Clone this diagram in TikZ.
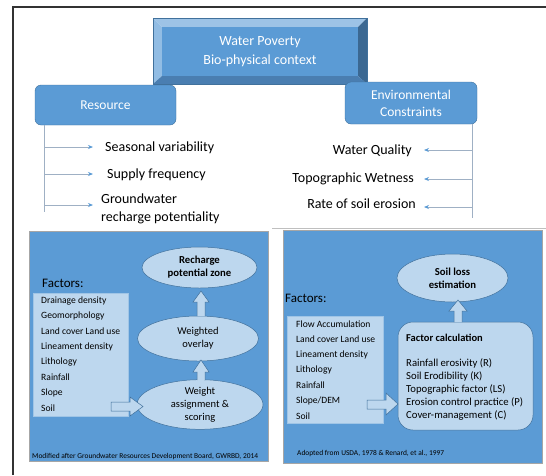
\documentclass[tikz,border=0pt]{standalone}
\usepackage{fontspec}
\setmainfont{Carlito}
\usetikzlibrary{arrows.meta,shapes.geometric}
\definecolor{mblue}{HTML}{5B9BD5}
\definecolor{lblue}{HTML}{BDD7EE}
\definecolor{dblue}{HTML}{41719C}
\definecolor{bevtop}{HTML}{9DC3E6}
\definecolor{bevleft}{HTML}{92BDE4}
\definecolor{bevright}{HTML}{3B6892}
\definecolor{bevbot}{HTML}{4A7EB1}
\definecolor{lineg}{HTML}{9FB0C4}
\definecolor{panelb}{HTML}{A6A6A6}
\tikzset{
  rbox/.style={draw=dblue, fill=mblue, rounded corners=6pt, text=white, align=center, font=\fontsize{13.5}{15}\selectfont, inner sep=0pt},
  plaintxt/.style={inner sep=0pt, anchor=west, font=\fontsize{14}{15}\selectfont},
  plaintxtr/.style={inner sep=0pt, anchor=east, font=\fontsize{14}{15}\selectfont},
  conn/.style={draw=lineg, line width=0.8pt, -{Stealth[length=5pt,width=4pt,color=mblue,fill=mblue]}},
  panelbox/.style={draw=panelb, fill=mblue, line width=0.6pt},
  lbox/.style={draw=lblue!70!mblue, fill=lblue, line width=0.5pt},
  itemtxt/.style={inner sep=0pt, anchor=west, font=\fontsize{9.6}{11}\selectfont},
  citem/.style={inner sep=0pt, anchor=west, font=\fontsize{10.7}{12}\selectfont},
  ell/.style={ellipse, draw=dblue, fill=lblue, line width=0.5pt, inner sep=0pt, align=center, font=\fontsize{10.5}{13}\selectfont},
  barrow/.style={draw=dblue, fill=lblue, line width=0.5pt, line join=miter},
  captxt/.style={inner sep=0pt, anchor=west, font=\fontsize{7.45}{8}\selectfont},
  factxt/.style={inner sep=0pt, anchor=west, font=\fontsize{13}{15}\selectfont}
}
\begin{document}
\begin{tikzpicture}[x=1pt, y=-1pt]
\useasboundingbox (0,0) rectangle (546,475);
% outer frame
\draw[line width=2pt, draw=black!80] (13,475) -- (13,7) -- (546,7);

% bevelled title box
\fill[bevtop] (153,18) -- (367,18) -- (358,27) -- (162,27) -- cycle;
\fill[bevleft] (153,18) -- (162,27) -- (162,76) -- (153,84) -- cycle;
\fill[bevright] (367,18) -- (367,84) -- (358,76) -- (358,27) -- cycle;
\fill[bevbot] (153,84) -- (162,76) -- (358,76) -- (367,84) -- cycle;
\node[fill=mblue, minimum width=196pt, minimum height=49pt, inner sep=0pt, text=white, align=center, font=\fontsize{14}{18.5}\selectfont] (title) at (260,51.5) {Water Poverty\\Bio-physical context};
\draw[dblue, line width=0.4pt] (153,18) rectangle (367,84);

% resource / constraints
\node[rbox, minimum width=141pt, minimum height=40pt] (res) at (105.5,105) {Resource};
\node[rbox, minimum width=132pt, minimum height=42pt, font=\fontsize{13.5}{17}\selectfont] (env) at (411,103) {Environmental\\Constraints};

\coordinate (rl) at (44,125);
\coordinate (rlend) at (44,212);
\draw[draw=lineg, line width=0.8pt] (rl) -- (rlend);
\node[plaintxt] (s1) at (105,148) {Seasonal variability};
\node[plaintxt] (s2) at (107,175) {Supply frequency};
\node[plaintxt, align=left, font=\fontsize{14}{18}\selectfont] (s3) at (101,209) {Groundwater\\recharge potentiality};
\draw[conn] (rl |- 0,147) -- (93,147);
\draw[conn] (rl |- 0,174) -- (93,174);
\draw[conn] (rl |- 0,205) -- (93,205);

\coordinate (el) at (472,124);
\coordinate (elend) at (472,218);
\draw[draw=lineg, line width=0.8pt] (el) -- (elend);
\node[plaintxtr] (w1) at (412,151) {Water Quality};
\node[plaintxtr] (w2) at (414,179) {Topographic Wetness};
\node[plaintxtr] (w3) at (416,204) {Rate of soil erosion};
\draw[conn] (el |- 0,150) -- (424,150);
\draw[conn] (el |- 0,179) -- (424,179);
\draw[conn] (el |- 0,207) -- (424,207);

\draw[draw=black!25, line width=0.6pt] (272,228.5) -- (546,228.5);

% ---------- left panel ----------
\draw[panelbox] (29,231) rectangle (268,461);
\node[factxt] (lfac) at (42,283) {Factors:};
\draw[lbox] (33,293) rectangle (128,416);
\foreach \t [count=\i] in {Drainage density, Geomorphology, Land cover Land use, Lineament density, Lithology, Rainfall, Slope, Soil}{
  \node[itemtxt] (lf\i) at (41,{301+(\i-1)*15.3}) {\t};
}
\node[ell, minimum width=115pt, minimum height=41pt, font=\bfseries\fontsize{10.7}{13}\selectfont] (e1) at (199.5,267.5) {Recharge\\potential zone};
\node[ell, minimum width=121pt, minimum height=45pt] (e2) at (198,338.5) {Weighted\\overlay};
\node[ell, minimum width=126pt, minimum height=49pt] (e3) at (200,404.5) {Weight\\assignment \&\\scoring};
% up arrows
\draw[barrow] (197,316) -- (197,302) -- (193,302) -- (201,291) -- (209,302) -- (205,302) -- (205,316);
\draw[barrow] (197,380) -- (197,372) -- (193,372) -- (201,360) -- (209,372) -- (205,372) -- (205,380);
% right arrow
\draw[barrow] (111,402) -- (130,402) -- (130,397) -- (143,406.5) -- (130,416) -- (130,411) -- (111,411) -- cycle;
\node[captxt] (lcap) at (32,457) {Modified after Groundwater Resources Development Board, GWRBD, 2014};

% ---------- right panel ----------
\draw[panelbox] (283,230) rectangle (542,463);
\node[factxt] (rfac) at (285,298) {Factors:};
\draw[lbox] (287,316) rectangle (383,423);
\foreach \t [count=\i] in {Flow Accumulation, Land cover Land use, Lineament density, Lithology, Rainfall, Slope/DEM, Soil}{
  \node[itemtxt] (rf\i) at (296,{324+(\i-1)*15.3}) {\t};
}
\node[ell, minimum width=111pt, minimum height=48pt, font=\bfseries\fontsize{10.7}{13}\selectfont] (e4) at (452.5,278) {Soil loss\\estimation};
\draw[dblue, fill=lblue, line width=0.5pt, rounded corners=15pt] (398,322) rectangle (533,430);
\node[citem, font=\bfseries\fontsize{10.5}{12}\selectfont] (fc) at (406,338) {Factor calculation};
\foreach \t [count=\i] in {Rainfall erosivity (R), Soil Erodibility (K), Topographic factor (LS), Erosion control practice (P), Cover-management (C)}{
  \node[citem] (c\i) at (406,{363+(\i-1)*13}) {\t};
}
\draw[barrow] (454,322) -- (454,311) -- (449,311) -- (458,300) -- (467,311) -- (462,311) -- (462,322);
\draw[barrow] (367,400) -- (386,400) -- (386,393) -- (398,404) -- (386,415) -- (386,409) -- (367,409) -- cycle;
\node[captxt] (rcap) at (297,454) {Adopted from USDA, 1978 \& Renard, et al., 1997};
\end{tikzpicture}
\end{document}
